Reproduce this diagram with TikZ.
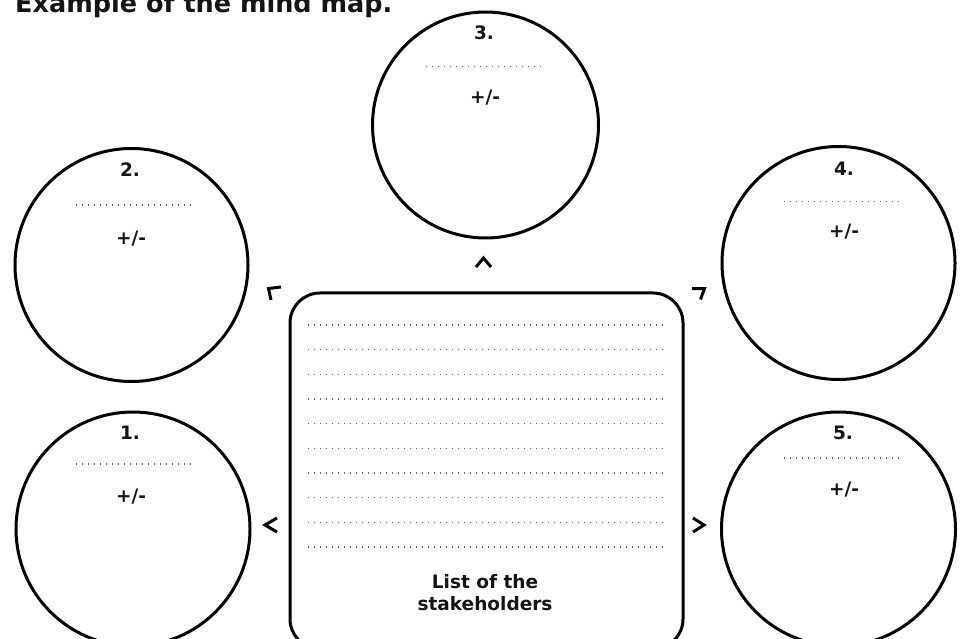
\documentclass[tikz,border=0pt]{standalone}
\usepackage{fontspec}
\setmainfont{DejaVu Sans}
\begin{document}
\begin{tikzpicture}[x=1bp,y=-1bp,
  bubble/.style={circle, draw=black, line width=3bp, inner sep=0pt},
  lbl/.style={font=\fontsize{18.5bp}{22bp}\selectfont\bfseries, anchor=base, inner sep=0pt, text=black!92},
  dotline/.style={black!60, line width=1.1bp, dash pattern=on 1.1bp off 4.9bp},
  chev/.style={line width=3bp, line join=miter, line cap=butt},
]
\useasboundingbox (0,0) rectangle (964,639);

% title
\node[font=\fontsize{25.5bp}{30bp}\selectfont\bfseries, anchor=base west, inner sep=0pt, text=black!92] (title) at (15,13) {Example of the mind map.};

% circles
\node[bubble, minimum size=226bp] (c3) at (485.5,125) {};
\node[bubble, minimum size=233bp] (c2) at (131.5,265) {};
\node[bubble, minimum size=233bp] (c4) at (838.5,263) {};
\node[bubble, minimum size=234bp] (c1) at (133,529) {};
\node[bubble, minimum size=234bp] (c5) at (838.5,529) {};

% central board
\node[draw=black, line width=3bp, rounded corners=30bp, minimum width=393bp, minimum height=356bp, inner sep=0pt] (board) at (486.5,471) {};
\foreach \k in {0,...,9}
  \draw[dotline] (308,{325+24.67*\k}) -- (667,{325+24.67*\k});
\node[lbl] (lst1) at (485,588) {List of the};
\node[lbl] (lst2) at (485,610) {stakeholders};

% circle 3
\node[lbl] (n3) at (484,40) {3.};
\draw[dotline] (426,66.5) -- (543,66.5);
\node[lbl] (p3) at (485,104) {+/-};
% circle 2
\node[lbl] (n2) at (130,177) {2.};
\draw[dotline] (76,205) -- (193,205);
\node[lbl] (p2) at (131,245) {+/-};
% circle 4
\node[lbl] (n4) at (844,176) {4.};
\draw[dotline] (784,201.5) -- (901,201.5);
\node[lbl] (p4) at (844,238) {+/-};
% circle 1
\node[lbl] (n1) at (130,439) {1.};
\draw[dotline] (76,464) -- (193,464);
\node[lbl] (p1) at (131,502) {+/-};
% circle 5
\node[lbl] (n5) at (843,439) {5.};
\draw[dotline] (784,458) -- (901,458);
\node[lbl] (p5) at (844,495) {+/-};

% chevrons
\draw[chev] (277,518) -- (265,525) -- (277,532);
\draw[chev] (693,518) -- (704,525) -- (693,532);
\draw[chev] (476,267) -- (483.5,258) -- (491,267);
\draw[chev] (281,287) -- (268.5,288.5) -- (271,300);
\draw[chev] (692,288.5) -- (704.5,288.5) -- (700.5,299.5);
\end{tikzpicture}
\end{document}
